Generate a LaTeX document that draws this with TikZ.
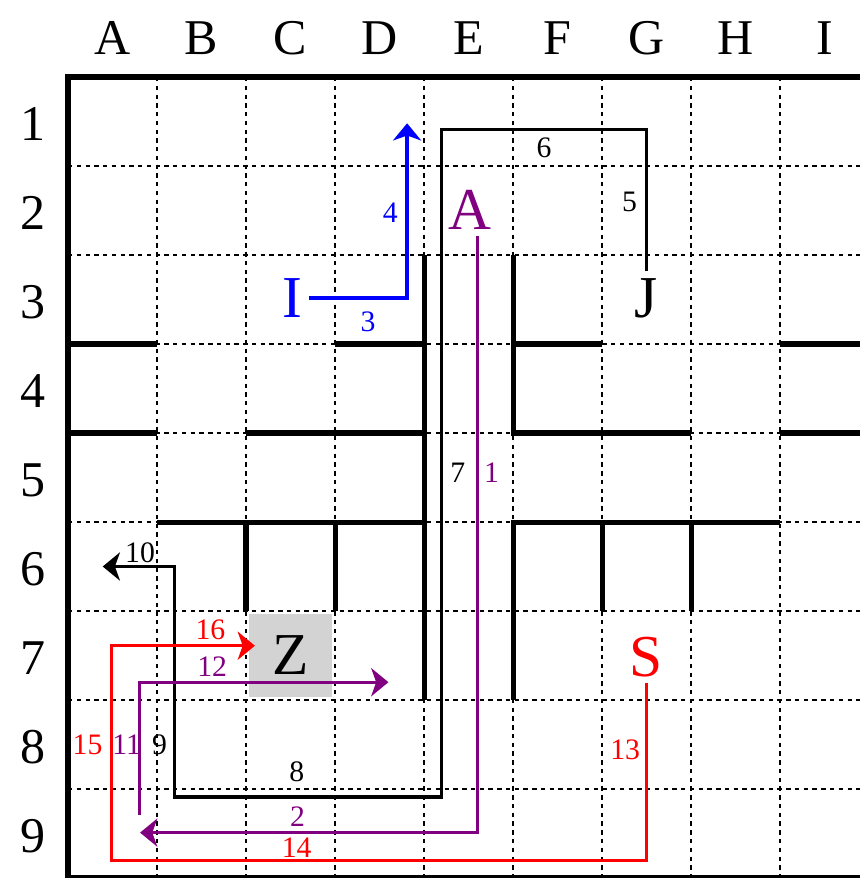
\documentclass[tikz,border=0pt]{standalone}
\usepackage{fontspec}
\setmainfont{Liberation Serif}
\usetikzlibrary{arrows.meta}
\definecolor{pur}{RGB}{128,0,128}
\definecolor{zgray}{RGB}{211,211,211}
\begin{document}
\begin{tikzpicture}[x=1cm,y=-1cm,
  gridline/.style={line width=0.55pt,dash pattern=on 1.4pt off 1.4pt},
  wall/.style={line width=1.6pt,line join=miter},
  border/.style={line width=1.8pt},
  axislab/.style={font=\fontsize{16}{18}\selectfont,inner sep=0pt,text depth=0pt},
  bigl/.style={font=\fontsize{19}{21}\selectfont,inner sep=2pt,text depth=0pt},
  num/.style={font=\fontsize{9.5}{11}\selectfont,inner sep=0pt,text depth=0pt},
  route/.style={line width=1pt,line join=miter},
  tip/.style={-{Stealth[length=5.5pt,width=9pt,inset=1.6pt]}}]
\useasboundingbox (-0.764,-0.865) rectangle (8.888,9.0);
% grid
\foreach \i in {1,...,9} \draw[gridline] (\i,0) -- (\i,9.3);
\foreach \j in {1,...,8} \draw[gridline] (0,\j) -- (9.3,\j);
% border
\draw[border] (9.3,9) -- (0,9) -- (0,0) -- (9.3,0);
% walls
\draw[wall] (0,3) -- (1,3) (3,3) -- (4,3) (8,3) -- (9.3,3);
\draw[wall] (0,4) -- (1,4) (2,4) -- (4,4) (8,4) -- (9.3,4);
\draw[wall] (6,3) -- (5,3);
\draw[wall] (5,2) -- (5,4) -- (7,4);
\draw[wall] (1,5) -- (4,5);
\draw[wall] (5,7) -- (5,5) -- (8,5);
\draw[wall] (4,2) -- (4,7);
\draw[wall] (2,5) -- (2,6) (3,5) -- (3,6) (6,5) -- (6,6) (7,5) -- (7,6);
% axis labels
\foreach \c [count=\k] in {A,B,C,D,E,F,G,H,I}
  \node[axislab] (col\c) at (\k-0.5,-0.44) {\c};
\foreach \r in {1,...,9}
  \node[axislab] (row\r) at (-0.39,\r-0.47) {\r};
% Z box
\node[bigl,fill=zgray,minimum width=0.94cm,minimum height=0.94cm] (Z) at (2.5,6.5) {Z};
% letters
\node[bigl,text=blue] (I) at (2.52,2.48) {I};
\node[bigl,text=pur] (A) at (4.52,1.49) {A};
\node[bigl] (J) at (6.5,2.48) {J};
\node[bigl,text=red] (S) at (6.5,6.51) {S};
% coordinates
\coordinate (b1) at (3.81,2.48);
\coordinate (b2) at (3.81,0.52);
\coordinate (k1) at (6.5,0.59);
\coordinate (k2) at (4.2,0.59);
\coordinate (k3) at (4.2,8.09);
\coordinate (k4) at (1.2,8.09);
\coordinate (k5) at (1.2,5.5);
\coordinate (k6) at (0.39,5.5);
\coordinate (p1) at (4.6,8.49);
\coordinate (p2) at (0.81,8.49);
\coordinate (p3) at (0.8,8.29);
\coordinate (p4) at (0.8,6.8);
\coordinate (p5) at (3.6,6.8);
\coordinate (r1) at (6.5,8.8);
\coordinate (r2) at (0.49,8.8);
\coordinate (r3) at (0.49,6.39);
\coordinate (r4) at (2.1,6.39);
% routes
\draw[route,blue,line width=1.2pt,tip] (I.east) -- (b1) -- (b2);
\draw[route,tip] (J.north) -- (k1) -- (k2) -- (k3) -- (k4) -- (k5) -- (k6);
\draw[route,pur,tip] (A.south -| p1) -- (p1) -- (p2);
\draw[route,pur,tip] (p3) -- (p4) -- (p5);
\draw[route,red,tip] (S.south) -- (r1) -- (r2) -- (r3) -- (r4);
% numbers
\node[num,text=pur] (n1) at (4.76,4.45) {1};
\node[num,text=pur] (n2) at (2.58,8.31) {2};
\node[num,text=blue] (n3) at (3.37,2.75) {3};
\node[num,text=blue] (n4) at (3.62,1.52) {4};
\node[num] (n5) at (6.31,1.40) {5};
\node[num] (n6) at (5.35,0.79) {6};
\node[num] (n7) at (4.38,4.45) {7};
\node[num] (n8) at (2.57,7.81) {8};
\node[num] (n9) at (1.03,7.5) {9};
\node[num] (n10) at (0.81,5.34) {10};
\node[num,text=pur] (n11) at (0.66,7.5) {11};
\node[num,text=pur] (n12) at (1.62,6.63) {12};
\node[num,text=red] (n13) at (6.26,7.56) {13};
\node[num,text=red] (n14) at (2.57,8.66) {14};
\node[num,text=red] (n15) at (0.22,7.5) {15};
\node[num,text=red] (n16) at (1.6,6.21) {16};
\end{tikzpicture}
\end{document}
